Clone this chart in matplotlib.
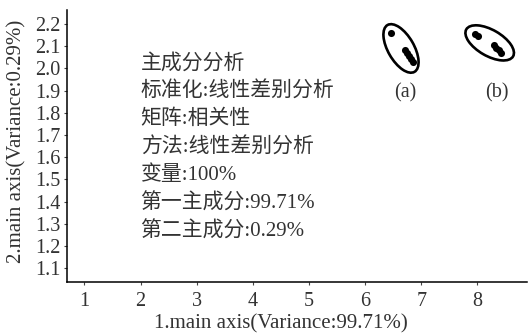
import matplotlib
matplotlib.use("Agg")
import matplotlib.pyplot as plt
from matplotlib.patches import Ellipse
from matplotlib.transforms import ScaledTranslation

plt.rcParams['font.family'] = ['Liberation Serif', 'Noto Sans CJK SC']
plt.rcParams['axes.unicode_minus'] = False

# Scores on the two discriminant axes, group (a) and group (b)
pc1_a = [6.47, 6.71, 6.74, 6.78, 6.81, 6.85]
pc2_a = [2.158, 2.083, 2.069, 2.056, 2.042, 2.028]
pc1_b = [7.95, 8.01, 8.29, 8.34, 8.38, 8.42]
pc2_b = [2.157, 2.144, 2.105, 2.094, 2.083, 2.071]

group_labels = ['(a)', '(b)']
label_x = [6.71, 8.34]
label_y = [1.888, 1.888]

# Group ellipses: centre (data units), axes in inches, rotation in degrees
ellipse_centers = [(6.64, 2.09), (8.22, 2.115)]
ellipse_axes = [(0.54, 0.26), (0.54, 0.26)]
ellipse_angles = [-60, -30]

xticks = [1, 2, 3, 4, 5, 6, 7, 8]
yticks = [1.1, 1.2, 1.3, 1.4, 1.5, 1.6, 1.7, 1.8, 1.9, 2.0, 2.1, 2.2]

info_lines = [
    '主成分分析',
    '标准化:线性差别分析',
    '矩阵:相关性',
    '方法:线性差别分析',
    '变量:100%',
    '第一主成分:99.71%',
    '第二主成分:0.29%',
]

xlabel = '1.main axis(Variance:99.71%)'
ylabel = '2.main axis(Variance:0.29%)'

text_color = '#333333'

fig = plt.figure(figsize=(5.29, 3.35), dpi=100)
ax = fig.add_axes([0.1267, 0.158, 0.869, 0.812])

ax.set_xlim(0.69, 8.88)
ax.set_ylim(1.037, 2.263)

for sp in ['top', 'right']:
    ax.spines[sp].set_visible(False)
for sp in ['left', 'bottom']:
    ax.spines[sp].set_linewidth(1.1)
    ax.spines[sp].set_color('black')

ax.set_xticks(xticks)
ax.set_xticklabels([str(v) for v in xticks])
ax.set_yticks(yticks)
ax.set_yticklabels([f'{v:.1f}' for v in yticks])
ax.tick_params(axis='both', direction='out', length=2.5, width=0.8,
               labelsize=14.5, labelcolor=text_color, color='#444444')
ax.tick_params(axis='x', pad=5)
ax.tick_params(axis='y', pad=2)

ax.set_xlabel(xlabel, fontsize=15, color=text_color)
ax.set_ylabel(ylabel, fontsize=15, color=text_color)
ax.xaxis.set_label_coords(0.465, -0.154)
ax.xaxis.label.set_va('center')
ax.yaxis.set_label_coords(-0.109, 0.516)
ax.yaxis.label.set_va('center')

ax.scatter(pc1_a, pc2_a, s=26, color='black', marker='o', linewidths=0, zorder=3)
ax.scatter(pc1_b, pc2_b, s=26, color='black', marker='o', linewidths=0, zorder=3)

for (cx, cy), (w, h), ang in zip(ellipse_centers, ellipse_axes, ellipse_angles):
    tr = fig.dpi_scale_trans + ScaledTranslation(cx, cy, ax.transData)
    ax.add_patch(Ellipse((0, 0), w, h, angle=ang, transform=tr,
                         fill=False, edgecolor='black', linewidth=1.9,
                         clip_on=False))

for lab, lx, ly in zip(group_labels, label_x, label_y):
    ax.text(lx, ly, lab, fontsize=14.5, color=text_color, ha='center', va='center')

for i, line in enumerate(info_lines):
    ax.annotate(line, xy=(2.0, 2.023), xytext=(0, -20.2 * i),
                textcoords='offset points', fontsize=15, fontweight='light',
                color=text_color, ha='left', va='center')

fig.savefig('out.png', dpi=100)
